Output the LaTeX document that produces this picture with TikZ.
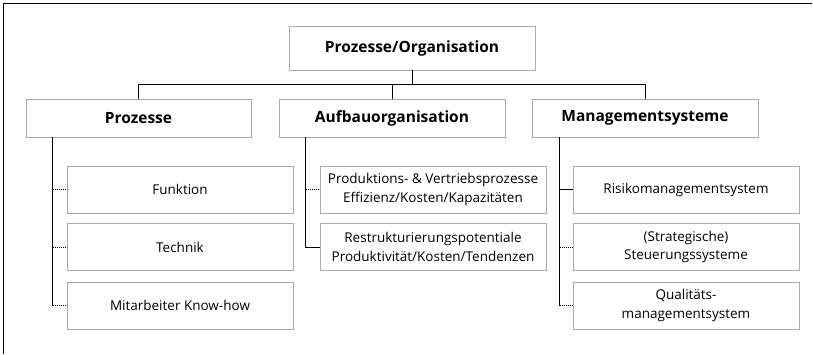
\documentclass[tikz,border=0pt]{standalone}
\usepackage{fontspec}
\setmainfont{Open Sans}
\begin{document}
\begin{tikzpicture}[x=1pt,y=-1pt,
  box/.style={draw=black!33,line width=0.9pt,fill=white,align=center,inner sep=0pt,
    minimum width=226pt,font=\fontsize{13.5}{18.4}\selectfont},
  headbox/.style={box,font=\fontsize{15.5}{18}\selectfont\bfseries,minimum height=38pt},
  leafbox/.style={box,minimum height=47pt},
  conn/.style={line width=0.9pt,black},
  stubdash/.style={conn,dash pattern=on 1.2pt off 0.8pt},
  frame/.style={line width=1.2pt,black}]
\useasboundingbox (0,0) rectangle (813,354);
\draw[frame] (3.5,354) -- (3.5,3.5) -- (812,3.5);
% level 0
\node[headbox,minimum width=246pt,minimum height=44pt] (top) at (412,48) {Prozesse/Organisation};
% level 1
\node[headbox,minimum width=225pt] (p) at (138.5,118) {Prozesse};
\node[headbox] (a) at (392,118) {Aufbauorganisation};
\node[headbox] (m) at (645,118) {Managementsysteme};
% level 2
\node[leafbox] (p1) at (180,189.5) {Funktion};
\node[leafbox] (p2) at (180,247) {Technik};
\node[leafbox] (p3) at (180,305.5) {Mitarbeiter Know-how};
\node[leafbox] (a1) at (433,189.5) {Produktions- \& Vertriebsprozesse\\Effizienz/Kosten/Kapazitäten};
\node[leafbox] (a2) at (433,247) {Restrukturierungspotentiale\\Produktivität/Kosten/Tendenzen};
\node[leafbox] (m1) at (686,189.5) {Risikomanagementsystem};
\node[leafbox] (m2) at (686,247) {(Strategische)\\Steuerungssysteme};
\node[leafbox] (m3) at (686,305.5) {Qualitäts-\\managementsystem};
% top connectors
\coordinate (bus) at (412,84);
\draw[conn] (top.south) -- (bus);
\draw[conn] (p.north) |- (m.north |- bus) -- (m.north);
\draw[conn] (a.north) -- (a.north |- bus);
% trunks
\coordinate (pt) at ([xshift=27pt]p.south west);
\coordinate (at) at ([xshift=27pt]a.south west);
\coordinate (mt) at ([xshift=28pt]m.south west);
\draw[conn] (pt) -- (pt |- p3.west);
\draw[conn] (at) |- (a2.west);
\draw[conn] (mt) -- (mt |- m3.west);
% stubs
\draw[stubdash] (pt |- p1.west) -- (p1.west);
\draw[stubdash] (pt |- p2.west) -- (p2.west);
\draw[stubdash] (pt |- p3.west) -- (p3.west);
\draw[stubdash] (at |- a1.west) -- (a1.west);
\draw[conn] (mt |- m1.west) -- (m1.west);
\draw[stubdash] (mt |- m2.west) -- (m2.west);
\draw[stubdash] (mt |- m3.west) -- (m3.west);
\end{tikzpicture}
\end{document}
